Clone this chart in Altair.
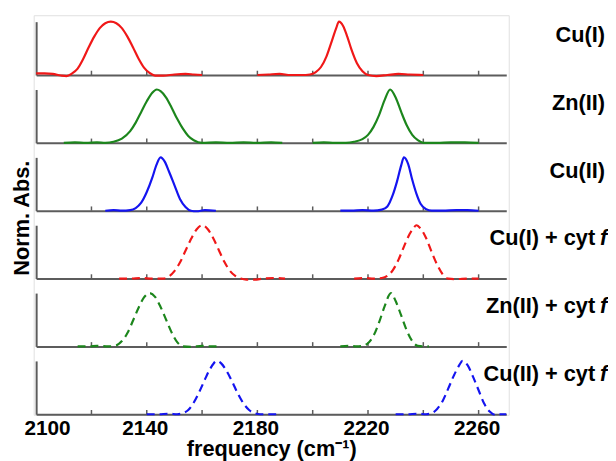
import altair as alt
import pandas as pd

# ---------------- data ----------------
panel_labels = ["Cu(I)", "Zn(II)", "Cu(II)", "Cu(I) + cyt", "Zn(II) + cyt", "Cu(II) + cyt"]
panel_italic = ["", "", "", "f", "f", "f"]
panel_colors = ["#f01818", "#1c861c", "#1414f0", "#f01818", "#1c861c", "#1414f0"]
panel_dashed = [False, False, False, True, True, True]

tick_values = [2120, 2140, 2160, 2180, 2200, 2220, 2240, 2260]
label_values = [2100, 2140, 2180, 2220, 2260]

# Cu(I)
cu1_a_x = [2100, 2103, 2106, 2109, 2111, 2113, 2115, 2117, 2119, 2121, 2123, 2125, 2127, 2129, 2131, 2133, 2135, 2137, 2139, 2141, 2143, 2146, 2150, 2154, 2157, 2160]
cu1_a_y = [0.03, 0.03, 0.02, -0.01, -0.02, 0.03, 0.12, 0.30, 0.52, 0.72, 0.88, 0.97, 1.00, 0.97, 0.88, 0.72, 0.52, 0.31, 0.14, 0.04, -0.01, -0.01, 0.01, 0.02, 0.01, 0.00]
cu1_b_x = [2180, 2184, 2188, 2192, 2196, 2199, 2201, 2203, 2205, 2207, 2208.5, 2209.5, 2211, 2212.5, 2214, 2216, 2218, 2220, 2223, 2227, 2231, 2235, 2240]
cu1_b_y = [0.00, 0.01, 0.02, 0.00, 0.00, 0.01, 0.05, 0.15, 0.35, 0.65, 0.88, 1.00, 0.92, 0.72, 0.48, 0.22, 0.07, 0.00, -0.02, 0.00, 0.02, 0.01, 0.00]

# Zn(II)
zn2_a_x = [2110, 2114, 2118, 2122, 2125, 2128, 2131, 2134, 2136, 2138, 2140, 2142, 2143.6, 2145, 2147, 2149, 2151, 2153, 2155, 2157, 2160, 2165, 2170, 2175, 2180, 2185, 2189]
zn2_a_y = [0.00, 0.01, 0.00, 0.01, 0.00, 0.02, 0.08, 0.22, 0.38, 0.58, 0.78, 0.94, 1.00, 0.97, 0.85, 0.66, 0.45, 0.27, 0.13, 0.05, 0.00, 0.01, 0.00, 0.01, 0.00, 0.01, 0.00]
zn2_b_x = [2200, 2204, 2208, 2212, 2215, 2218, 2220, 2222, 2224, 2226, 2228, 2230, 2232, 2234, 2236, 2238, 2240, 2245, 2250, 2255, 2260]
zn2_b_y = [0.00, 0.01, 0.00, 0.00, 0.02, 0.07, 0.15, 0.30, 0.52, 0.80, 1.00, 0.85, 0.58, 0.33, 0.15, 0.05, 0.00, 0.00, 0.01, 0.01, 0.00]

# Cu(II)
cu2_a_x = [2125, 2128, 2131, 2134, 2136, 2138, 2140, 2142, 2143.5, 2145, 2146.5, 2148, 2150, 2152, 2154, 2156, 2158, 2161, 2165]
cu2_a_y = [0.00, 0.01, 0.00, 0.01, 0.05, 0.15, 0.35, 0.62, 0.86, 1.00, 0.92, 0.74, 0.48, 0.22, 0.07, 0.00, -0.01, 0.01, 0.00]
cu2_b_x = [2210, 2214, 2218, 2222, 2225, 2227, 2229, 2230.5, 2232, 2233, 2234.5, 2236, 2237.5, 2239, 2241, 2243, 2247, 2252, 2256, 2260]
cu2_b_y = [0.00, 0.00, 0.01, 0.00, 0.02, 0.08, 0.30, 0.55, 0.85, 1.00, 0.88, 0.58, 0.32, 0.13, 0.03, 0.00, 0.00, 0.01, 0.01, 0.00]

# Cu(I) + cyt f
cu1f_a_x = [2130, 2134, 2138, 2142, 2146, 2148, 2150, 2152, 2154, 2156, 2158, 2160, 2162, 2164, 2166, 2168, 2170, 2172, 2174, 2176, 2179, 2182, 2186, 2190]
cu1f_a_y = [0.00, 0.00, 0.01, 0.00, 0.00, 0.04, 0.14, 0.30, 0.52, 0.74, 0.92, 1.00, 0.93, 0.76, 0.54, 0.32, 0.15, 0.05, 0.00, -0.02, -0.02, 0.00, 0.01, 0.00]
cu1f_b_x = [2215, 2219, 2222, 2225, 2227, 2229, 2231, 2233, 2235, 2236.5, 2237.5, 2239, 2241, 2243, 2245, 2247, 2249, 2252, 2256, 2260]
cu1f_b_y = [0.00, 0.01, 0.00, 0.01, 0.05, 0.16, 0.35, 0.60, 0.83, 0.95, 1.00, 0.94, 0.76, 0.50, 0.26, 0.08, 0.00, -0.01, 0.00, 0.00]

# Zn(II) + cyt f
zn2f_a_x = [2115, 2119, 2122, 2126, 2129, 2131, 2133, 2135, 2137, 2139, 2141, 2143, 2145, 2147, 2149, 2151, 2153, 2156, 2160, 2164, 2167]
zn2f_a_y = [0.00, 0.00, 0.01, 0.00, 0.02, 0.10, 0.25, 0.48, 0.72, 0.92, 1.00, 0.93, 0.74, 0.50, 0.26, 0.08, 0.00, -0.01, 0.01, 0.00, 0.00]
zn2f_b_x = [2210, 2213, 2216, 2218, 2220, 2222, 2224, 2226, 2228.3, 2230, 2232, 2234, 2236, 2238, 2240, 2242]
zn2f_b_y = [0.00, 0.01, 0.00, 0.01, 0.06, 0.20, 0.45, 0.75, 1.00, 0.85, 0.58, 0.30, 0.10, 0.01, 0.00, 0.00]

# Cu(II) + cyt f
cu2f_a_x = [2140, 2144, 2148, 2151, 2153, 2155, 2157, 2159, 2161, 2163, 2165.4, 2167, 2169, 2171, 2173, 2175, 2177, 2179, 2181, 2184, 2188]
cu2f_a_y = [0.00, 0.00, 0.01, 0.00, 0.02, 0.08, 0.22, 0.42, 0.65, 0.86, 1.00, 0.95, 0.80, 0.60, 0.38, 0.20, 0.08, 0.02, 0.00, 0.00, 0.00]
cu2f_b_x = [2230, 2234, 2238, 2241, 2243, 2245, 2247, 2249, 2251, 2253, 2254.2, 2256, 2258, 2260, 2262, 2264, 2266, 2268, 2270]
cu2f_b_y = [0.00, 0.00, 0.01, 0.00, 0.02, 0.10, 0.25, 0.48, 0.72, 0.92, 1.00, 0.92, 0.70, 0.45, 0.20, 0.05, -0.01, 0.00, 0.00]

segments = [
    ((cu1_a_x, cu1_a_y), (cu1_b_x, cu1_b_y)),
    ((zn2_a_x, zn2_a_y), (zn2_b_x, zn2_b_y)),
    ((cu2_a_x, cu2_a_y), (cu2_b_x, cu2_b_y)),
    ((cu1f_a_x, cu1f_a_y), (cu1f_b_x, cu1f_b_y)),
    ((zn2f_a_x, zn2f_a_y), (zn2f_b_x, zn2f_b_y)),
    ((cu2f_a_x, cu2f_a_y), (cu2f_b_x, cu2f_b_y)),
]

# ---------------- chart ----------------
FONT = "Liberation Sans"
W, H = 476, 54
SPACING = 14.7
AXIS_COLOR = "#5c5c5c"

x_scale = alt.Scale(domain=[2100, 2270], nice=False, zero=False)
y_scale = alt.Scale(domain=[0, 1], nice=False, zero=False)

ticks_df = pd.DataFrame({"freq": tick_values})

panels = []
for i, ((ax, ay), (bx, by)) in enumerate(segments):
    df = pd.concat([
        pd.DataFrame({"freq": ax, "absorb": ay, "seg": "a"}),
        pd.DataFrame({"freq": bx, "absorb": by, "seg": "b"}),
    ])
    last = i == len(segments) - 1
    if last:
        x_axis = alt.Axis(values=label_values, format="d", ticks=False, grid=False,
                          domain=True, labels=True, labelFont=FONT, labelFontWeight="bold",
                          labelFontSize=21, labelColor="black", labelPadding=3,
                          labelFlush=False,
                          labelOffset={"condition": {"test": "datum.value == 2100", "value": 11}, "value": -2},
                          title="frequency (cm⁻¹)", titleFont=FONT, titleFontWeight="bold",
                          titleFontSize=22, titleColor="black", titlePadding=1)
    else:
        x_axis = alt.Axis(ticks=False, labels=False, grid=False, domain=True, title=None)
    if i == 2:
        y_axis = alt.Axis(ticks=False, labels=False, grid=False, domain=True,
                          title="Norm. Abs.", titleFont=FONT, titleFontWeight="bold",
                          titleFontSize=22, titleColor="black", titleAngle=270,
                          titleAlign="center", titleBaseline="middle",
                          titleX=-14.5, titleY=61)
    else:
        y_axis = alt.Axis(ticks=False, labels=False, grid=False, domain=True, title=None)

    line_kw = dict(color=panel_colors[i], strokeWidth=2.2, interpolate="monotone")
    if panel_dashed[i]:
        line_kw["strokeDash"] = [8, 5]
    line = alt.Chart(df).mark_line(**line_kw).encode(
        x=alt.X("freq:Q", scale=x_scale, axis=x_axis),
        y=alt.Y("absorb:Q", scale=y_scale, axis=y_axis),
        detail="seg:N",
    )
    ticks = alt.Chart(ticks_df).mark_rule(color=AXIS_COLOR, strokeWidth=1.5).encode(
        x=alt.X("freq:Q", scale=x_scale),
        y=alt.datum(0),
        y2=alt.datum(0.08),
    )
    lab_df = pd.DataFrame({"label": [panel_labels[i]], "ital": [panel_italic[i]]})
    layers = [ticks, line]
    if i == 0:
        # faint frame that surrounds the whole stack of panels in the original
        frame = alt.Chart(lab_df).mark_rect(fill="transparent", stroke="#e0e0e0", strokeWidth=1).encode(
            x=alt.value(-2), x2=alt.value(W + 3),
            y=alt.value(-6), y2=alt.value(5 * (H + SPACING) + H + 1),
        )
        layers = [frame] + layers
    if panel_italic[i]:
        main_text = alt.Chart(lab_df).mark_text(
            align="right", baseline="middle", font=FONT, fontWeight="bold", fontSize=22, color="black"
        ).encode(text="label:N", x=alt.value(566), y=alt.value(13.5))
        ital_text = alt.Chart(lab_df).mark_text(
            align="left", baseline="middle", font=FONT, fontWeight="bold", fontStyle="italic",
            fontSize=22, color="black"
        ).encode(text="ital:N", x=alt.value(571), y=alt.value(13.5))
        layers += [main_text, ital_text]
    else:
        main_text = alt.Chart(lab_df).mark_text(
            align="right", baseline="middle", font=FONT, fontWeight="bold", fontSize=22, color="black"
        ).encode(text="label:N", x=alt.value(576), y=alt.value(13.5))
        layers += [main_text]
    panels.append(alt.layer(*layers).properties(width=W, height=H))

chart = alt.vconcat(*panels, spacing=SPACING, bounds="flush").properties(
    padding={"left": 1.5, "top": 4, "right": 0, "bottom": 0}
).configure_view(stroke="transparent").configure_axis(
    domainColor=AXIS_COLOR, domainWidth=2
)

chart.save("out.html", embed_options={"renderer": "svg", "actions": False})
